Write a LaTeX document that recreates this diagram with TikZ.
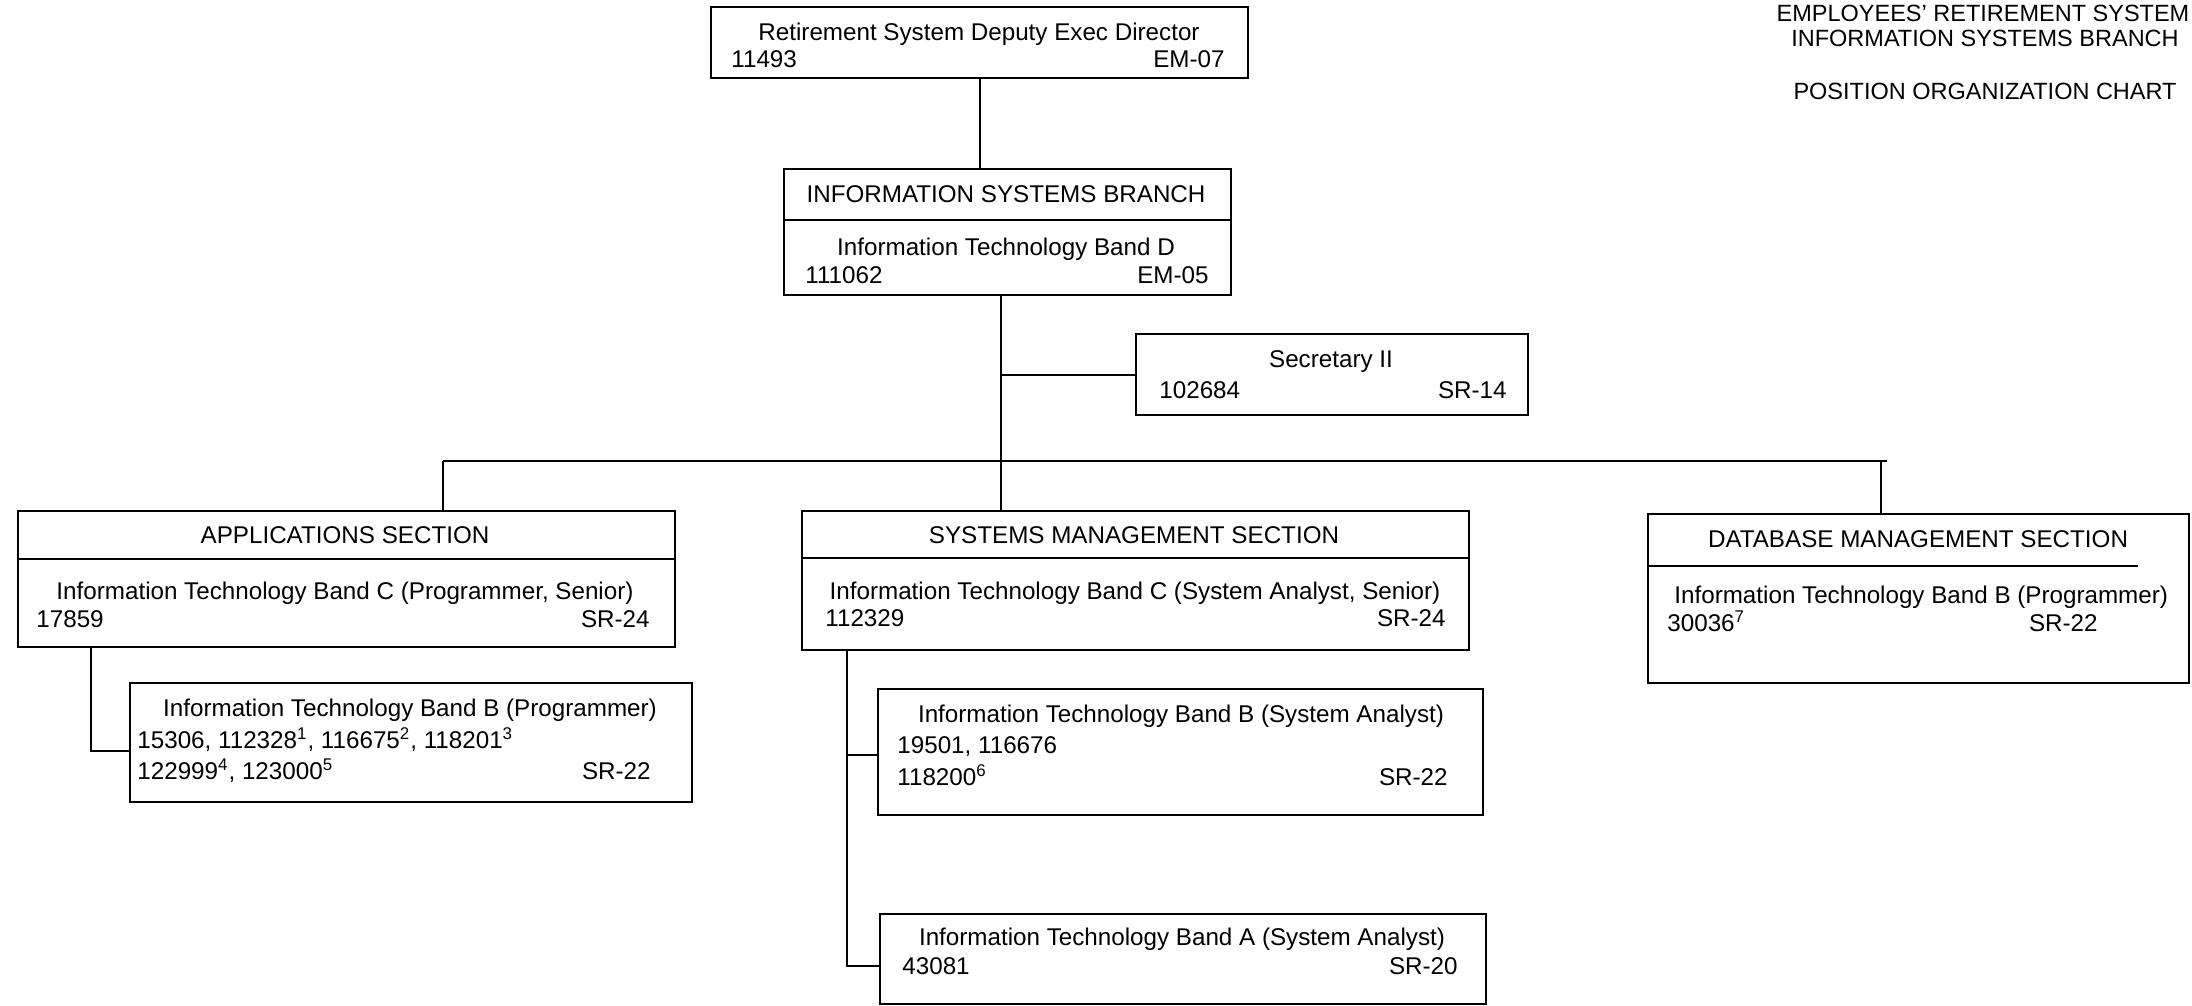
\documentclass[tikz,border=0pt]{standalone}
\usepackage{fontspec}
\setmainfont{Liberation Sans}
\begin{document}
\begin{tikzpicture}[x=0.5pt,y=-0.5pt,
  box/.style={draw, line width=1.2pt, rectangle, anchor=north west, inner sep=0pt},
  ln/.style={line width=1.2pt},
  txt/.style={inner sep=0pt, font=\fontsize{12.1}{14}\selectfont},
  ttl/.style={inner sep=0pt, anchor=base, font=\fontsize{11.75}{14}\selectfont},
  ctr/.style={txt, anchor=base},
  lft/.style={txt, anchor=base west},
  rgt/.style={txt, anchor=base east},
]
\useasboundingbox (0,0) rectangle (2192,1006);

% title
\node[ttl] (t1) at (1983,22) {EMPLOYEES' RETIREMENT SYSTEM};
\node[ttl] (t2) at (1985,47) {INFORMATION SYSTEMS BRANCH};
\node[ttl] (t3) at (1985,100) {POSITION ORGANIZATION CHART};

% boxes
\node[box, minimum width=268.5pt, minimum height=35.5pt] (top) at (710,6) {};
\node[box, minimum width=223.5pt, minimum height=63pt] (isb) at (783,168) {};
\node[box, minimum width=196pt, minimum height=40.5pt] (sec) at (1135,333) {};
\node[box, minimum width=328.5pt, minimum height=68pt] (app) at (17,510) {};
\node[box, minimum width=281pt, minimum height=59.5pt] (appb) at (129,682) {};
\node[box, minimum width=333.5pt, minimum height=69.5pt] (sms) at (801,510) {};
\node[box, minimum width=302.5pt, minimum height=63pt] (smsb) at (877,688) {};
\node[box, minimum width=303pt, minimum height=45pt] (smsa) at (879,913) {};
\node[box, minimum width=270.5pt, minimum height=84.5pt] (db) at (1647,513) {};

% dividers
\draw[ln] (isb.west |- 0,220) -- (isb.east |- 0,220);
\draw[ln] (app.west |- 0,559) -- (app.east |- 0,559);
\draw[ln] (sms.west |- 0,558) -- (sms.east |- 0,558);
\draw[ln] (db.west |- 0,566) -- (2138,566);

% texts
\node[ctr] (topA) at (979,41) {Retirement System Deputy Exec Director};
\node[lft] (topB) at (731,68) {11493};
\node[rgt] (topC) at (1225,68) {EM-07};

\node[ctr] (isbA) at (1006,203) {INFORMATION SYSTEMS BRANCH};
\node[ctr] (isbB) at (1006,256) {Information Technology Band D};
\node[lft] (isbC) at (805,284) {111062};
\node[rgt] (isbD) at (1209,284) {EM-05};

\node[ctr] (secA) at (1331,367) {Secretary II};
\node[lft] (secB) at (1159,398) {102684};
\node[rgt] (secC) at (1507,398) {SR-14};

\node[ctr] (appA) at (345,543) {APPLICATIONS SECTION};
\node[ctr] (appB) at (345,599) {Information Technology Band C (Programmer, Senior)};
\node[lft] (appC) at (36,627) {17859};
\node[rgt] (appD) at (650,627) {SR-24};

\node[ctr] (appbA) at (410,716) {Information Technology Band B (Programmer)};
\node[lft] (appbB) at (137,748) {15306, 112328\textsuperscript{1}, 116675\textsuperscript{2}, 118201\textsuperscript{3}};
\node[lft] (appbC) at (137,779) {122999\textsuperscript{4}, 123000\textsuperscript{5}};
\node[rgt] (appbD) at (651,779) {SR-22};

\node[ctr] (smsA) at (1134,543) {SYSTEMS MANAGEMENT SECTION};
\node[ctr] (smsB) at (1135,599) {Information Technology Band C (System Analyst, Senior)};
\node[lft] (smsC) at (825,626) {112329};
\node[rgt] (smsD) at (1446,626) {SR-24};

\node[ctr] (smsbA) at (1181,722) {Information Technology Band B (System Analyst)};
\node[lft] (smsbB) at (897,753) {19501, 116676};
\node[lft] (smsbC) at (897,785) {118200\textsuperscript{6}};
\node[rgt] (smsbD) at (1448,785) {SR-22};

\node[ctr] (smsaA) at (1182,945) {Information Technology Band A (System Analyst)};
\node[lft] (smsaB) at (902,974) {43081};
\node[rgt] (smsaC) at (1458,974) {SR-20};

\node[ctr] (dbA) at (1918,547) {DATABASE MANAGEMENT SECTION};
\node[lft] (dbB) at (1674,603) {Information Technology Band B (Programmer)};
\node[lft] (dbC) at (1667,631) {30036\textsuperscript{7}};
\node[rgt] (dbD) at (2098,631) {SR-22};

% connectors
\coordinate (trunk) at (1001,461);
\coordinate (busL) at (443,461);
\coordinate (busR) at (1887,461);
\coordinate (dbdrop) at (1881,461);
\coordinate (appx) at (91,751);
\coordinate (smsx) at (847,755);
\coordinate (smsy) at (847,966);

\draw[ln] (top.south) -- (top.south |- isb.north);
\draw[ln] (trunk |- isb.south) -- (trunk |- sms.north);
\draw[ln] (trunk |- sec.west) -- (sec.west);
\draw[ln] (busL) -- (busR);
\draw[ln] (busL) -- (busL |- app.north);
\draw[ln] (dbdrop) -- (dbdrop |- db.north);
\draw[ln] (appx |- app.south) -- (appx) -- (appx -| appb.west);
\draw[ln] (smsx |- sms.south) -- (smsy) -- (smsy -| smsa.west);
\draw[ln] (smsx) -- (smsx -| smsb.west);
\end{tikzpicture}
\end{document}
